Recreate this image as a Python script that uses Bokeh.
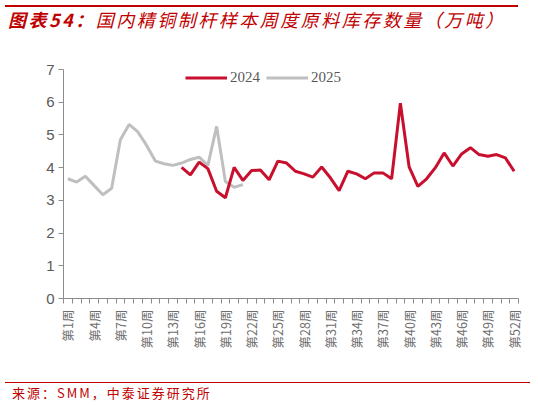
from bokeh.plotting import figure
from bokeh.models import Range1d, FixedTicker, Legend, LegendItem, Div
from bokeh.layouts import column
from bokeh.embed import file_html
from bokeh.resources import INLINE

# ---- data ----
week_labels = ["第%d周" % i for i in range(1, 53)]
shown_weeks = [1, 4, 7, 10, 13, 16, 19, 22, 25, 28, 31, 34, 37, 40, 43, 46, 49, 52]

weeks_2024 = list(range(14, 53))
inv_2024 = [4.01, 3.78, 4.17, 3.97, 3.28, 3.08, 4.01, 3.61, 3.91,
            3.93, 3.63, 4.20, 4.14, 3.89, 3.81, 3.71, 4.02, 3.69, 3.30,
            3.89, 3.81, 3.66, 3.84, 3.84, 3.66, 5.97, 4.02, 3.43, 3.66,
            4.00, 4.45, 4.05, 4.42, 4.61, 4.40, 4.35, 4.40, 4.30, 3.89]

weeks_2025 = list(range(1, 22))
inv_2025 = [3.66, 3.56, 3.74, 3.45, 3.17, 3.37, 4.85, 5.32, 5.09, 4.68,
            4.20, 4.12, 4.07, 4.14, 4.25, 4.32, 4.07, 5.26, 3.58, 3.40, 3.48]

y_ticks = [0, 1, 2, 3, 4, 5, 6, 7]

title_text = "国内精铜制杆样本周度原料库存数量（万吨）"
title_prefix = "图表54："
source_text = "来源：SMM，中泰证券研究所"

RED = "#C8102E"
GRAY = "#BFBFBF"
AXIS = "#8C8C8C"
TXT = "#595959"
TITLE_RED = "#C00000"

p = figure(width=538, height=338, output_backend="svg", toolbar_location=None,
           x_range=Range1d(0.5, 52.5), y_range=Range1d(0, 7))
p.min_border = 0
p.min_border_left = 63
p.min_border_right = 20
p.min_border_top = 25
p.min_border_bottom = 84
p.outline_line_color = None
p.xgrid.grid_line_color = None
p.ygrid.grid_line_color = None
p.background_fill_color = "white"
p.border_fill_color = "white"

r25 = p.line(weeks_2025, inv_2025, line_color=GRAY, line_width=3)
r24 = p.line(weeks_2024, inv_2024, line_color=RED, line_width=3)

# x axis
xa = p.xaxis[0]
xa.ticker = FixedTicker(ticks=shown_weeks,
                        minor_ticks=[w - 0.5 for w in range(1, 54)])
xa.major_label_overrides = {w: week_labels[w - 1] for w in shown_weeks}
xa.major_label_orientation = 1.5707963
xa.major_tick_line_color = None
xa.major_tick_out = 5
xa.major_tick_in = 0
xa.minor_tick_line_color = AXIS
xa.minor_tick_out = 5
xa.minor_tick_in = 0
xa.axis_line_color = AXIS
xa.major_label_standoff = 6
xa.major_label_text_font = "Noto Sans CJK SC"
xa.major_label_text_font_size = "12.5px"
xa.major_label_text_color = "#6E6E6E"

# y axis
ya = p.yaxis[0]
ya.ticker = FixedTicker(ticks=y_ticks)
ya.axis_line_color = AXIS
ya.major_tick_line_color = AXIS
ya.major_tick_out = 5
ya.major_tick_in = 0
ya.minor_tick_line_color = None
ya.major_label_standoff = 4
ya.major_label_text_font = "Liberation Sans"
ya.major_label_text_font_size = "15px"
ya.major_label_text_color = TXT

legend = Legend(items=[LegendItem(label="2024", renderers=[r24]),
                       LegendItem(label="2025", renderers=[r25])],
                orientation="horizontal", location=(122, 212))
legend.border_line_color = None
legend.background_fill_alpha = 0
legend.glyph_width = 42
legend.glyph_height = 17
legend.label_height = 17
legend.label_standoff = 3
legend.spacing = 6
legend.padding = 0
legend.margin = 0
legend.label_text_font = "Liberation Serif"
legend.label_text_font_size = "15px"
legend.label_text_color = TXT
p.add_layout(legend, "center")

title = Div(text=(
    '<div style="padding-top:5px;padding-left:5px;">'
    '<div style="width:513px;border-top:2px solid %s;padding-top:1px;padding-left:3px;'
    'font-family:\'Noto Sans CJK SC\';font-size:18px;line-height:22px;'
    'letter-spacing:2.5px;color:%s;font-style:italic;white-space:nowrap;">'
    '<b>%s</b>%s</div></div>') % (TITLE_RED, TITLE_RED, title_prefix, title_text),
    width=538, height=44, margin=(0, 0, 0, 0))

source = Div(text=(
    '<div style="padding-left:5px;">'
    '<div style="width:525px;border-top:1px solid %s;padding-left:7px;padding-top:2px;'
    'font-family:\'Noto Sans CJK SC\';font-size:13px;line-height:16px;'
    'letter-spacing:2px;color:%s;white-space:nowrap;">%s</div></div>')
    % (TITLE_RED, TITLE_RED, source_text),
    width=538, height=23, margin=(0, 0, 0, 0))

layout = column(title, p, source, spacing=0)

open("out.html", "w").write(file_html(layout, INLINE))
